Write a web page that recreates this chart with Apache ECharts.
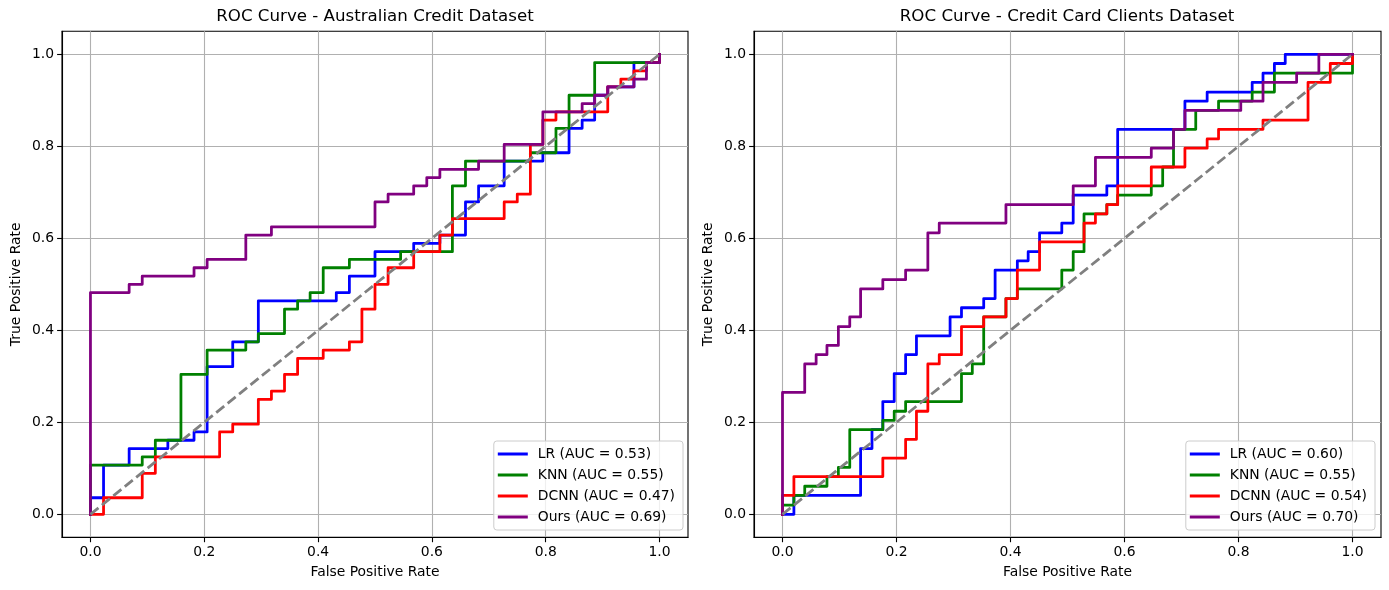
<!DOCTYPE html>
<html><head><meta charset="utf-8">
<script src="https://cdn.jsdelivr.net/npm/echarts@6/dist/echarts.min.js"></script>
<style>html,body{margin:0;padding:0;background:#fff}#c{width:1389px;height:590px}</style>
</head><body><div id="c"></div>
<script>
// ---------- data ----------
const titles = ['ROC Curve - Australian Credit Dataset', 'ROC Curve - Credit Card Clients Dataset'];
const tickValues = [0, 0.2, 0.4, 0.6, 0.8, 1.0];
const tickLabels = ['0.0', '0.2', '0.4', '0.6', '0.8', '1.0'];
const diagX = [0, 1];
const diagY = [0, 1];

const ausNames = ['LR (AUC = 0.53)', 'KNN (AUC = 0.55)', 'DCNN (AUC = 0.47)', 'Ours (AUC = 0.69)'];
const ccNames = ['LR (AUC = 0.60)', 'KNN (AUC = 0.55)', 'DCNN (AUC = 0.54)', 'Ours (AUC = 0.70)'];

const ausLrFpr = [0,0,.023,.023,.068,.068,.136,.136,.182,.182,.205,.205,.25,.25,.295,.295,.432,.432,.455,.455,.5,.5,.568,.568,.614,.614,.659,.659,.682,.682,.727,.727,.795,.795,.841,.841,.864,.864,.886,.886,.909,.909,.955,.955,1,1];
const ausLrTpr = [0,.036,.036,.107,.107,.143,.143,.161,.161,.179,.179,.321,.321,.375,.375,.464,.464,.482,.482,.518,.518,.571,.571,.589,.589,.607,.607,.679,.679,.714,.714,.768,.768,.786,.786,.839,.839,.857,.857,.911,.911,.929,.929,.982,.982,1];

const ausKnnFpr = [0,0,.091,.091,.114,.114,.159,.159,.205,.205,.273,.273,.295,.295,.341,.341,.364,.364,.386,.386,.409,.409,.455,.455,.545,.545,.636,.636,.659,.659,.773,.773,.818,.818,.841,.841,.886,.886,1,1];
const ausKnnTpr = [0,.107,.107,.125,.125,.161,.161,.304,.304,.357,.357,.375,.375,.393,.393,.446,.446,.464,.464,.482,.482,.536,.536,.554,.554,.571,.571,.714,.714,.768,.768,.786,.786,.839,.839,.911,.911,.982,.982,1];

const ausDcnnFpr = [0,.023,.023,.091,.091,.114,.114,.227,.227,.25,.25,.295,.295,.318,.318,.341,.341,.364,.364,.409,.409,.455,.455,.477,.477,.5,.5,.523,.523,.568,.568,.614,.614,.636,.636,.727,.727,.75,.75,.773,.773,.795,.795,.818,.818,.909,.909,.932,.932,.955,.955,.977,.977,1,1];
const ausDcnnTpr = [0,0,.036,.036,.089,.089,.125,.125,.179,.179,.196,.196,.25,.25,.268,.268,.304,.304,.339,.339,.357,.357,.375,.375,.446,.446,.5,.5,.536,.536,.571,.571,.607,.607,.643,.643,.679,.679,.696,.696,.804,.804,.857,.857,.875,.875,.929,.929,.946,.946,.964,.964,.982,.982,1];

const ausOursFpr = [0,0,.068,.068,.091,.091,.182,.182,.205,.205,.273,.273,.318,.318,.5,.5,.523,.523,.568,.568,.591,.591,.614,.614,.682,.682,.727,.727,.795,.795,.864,.864,.886,.886,.909,.909,.955,.955,.977,.977,1,1];
const ausOursTpr = [0,.482,.482,.5,.5,.518,.518,.536,.536,.554,.554,.607,.607,.625,.625,.679,.679,.696,.696,.714,.714,.732,.732,.75,.75,.768,.768,.804,.804,.875,.875,.893,.893,.911,.911,.929,.929,.946,.946,.982,.982,1];

const ccLrFpr = [0,.02,.02,.137,.137,.157,.157,.176,.176,.196,.196,.216,.216,.235,.235,.294,.294,.314,.314,.353,.353,.373,.373,.412,.412,.431,.431,.451,.451,.49,.49,.51,.51,.569,.569,.588,.588,.706,.706,.745,.745,.824,.824,.843,.843,.863,.863,.882,.882,1];
const ccLrTpr = [0,0,.041,.041,.143,.143,.184,.184,.245,.245,.306,.306,.347,.347,.388,.388,.429,.429,.449,.449,.469,.469,.531,.531,.551,.551,.571,.571,.612,.612,.633,.633,.694,.694,.714,.714,.837,.837,.898,.898,.918,.918,.939,.939,.959,.959,.98,.98,1,1];

const ccKnnFpr = [0,0,.02,.02,.039,.039,.078,.078,.098,.098,.118,.118,.176,.176,.196,.196,.216,.216,.314,.314,.333,.333,.353,.353,.392,.392,.412,.412,.49,.49,.51,.51,.529,.529,.569,.569,.588,.588,.647,.647,.667,.667,.686,.686,.725,.725,.765,.765,.824,.824,.863,.863,1,1];
const ccKnnTpr = [0,.02,.02,.041,.041,.061,.061,.082,.082,.102,.102,.184,.184,.204,.204,.224,.224,.245,.245,.306,.306,.327,.327,.429,.429,.469,.469,.49,.49,.531,.531,.571,.571,.653,.653,.673,.673,.694,.694,.714,.714,.755,.755,.837,.837,.878,.878,.898,.898,.918,.918,.959,.959,1];

const ccDcnnFpr = [0,0,.02,.02,.176,.176,.216,.216,.235,.235,.255,.255,.275,.275,.314,.314,.353,.353,.392,.392,.412,.412,.451,.451,.529,.529,.549,.549,.569,.569,.588,.588,.647,.647,.706,.706,.745,.745,.765,.765,.843,.843,.922,.922,.961,.961,1,1];
const ccDcnnTpr = [0,.041,.041,.082,.082,.122,.122,.163,.163,.224,.224,.327,.327,.347,.347,.408,.408,.429,.429,.469,.469,.531,.531,.592,.592,.633,.633,.653,.653,.673,.673,.714,.714,.755,.755,.796,.796,.816,.816,.837,.837,.857,.857,.939,.939,.98,.98,1];

const ccOursFpr = [0,0,.039,.039,.059,.059,.078,.078,.098,.098,.118,.118,.137,.137,.176,.176,.216,.216,.255,.255,.275,.275,.392,.392,.51,.51,.549,.549,.647,.647,.686,.686,.706,.706,.804,.804,.843,.843,.902,.902,.941,.941,1];
const ccOursTpr = [0,.265,.265,.327,.327,.347,.347,.367,.367,.408,.408,.429,.429,.49,.49,.51,.51,.531,.531,.612,.612,.633,.633,.673,.673,.714,.714,.776,.776,.796,.796,.837,.837,.878,.878,.898,.898,.939,.939,.959,.959,1,1];

const seriesColors = ['#0000ff', '#008000', '#ff0000', '#800080'];

// ---------- chart ----------
const FONT = 'DejaVu Sans';
const zip = (xs, ys) => xs.map((x, i) => [x, ys[i]]);
const tickFmt = v => {
  const i = tickValues.findIndex(t => Math.abs(t - v) < 1e-6);
  return i >= 0 ? tickLabels[i] : '';
};

function xAxisCfg(g) {
  return {
    type: 'value', gridIndex: g, min: -0.05, max: 1.05, splitNumber: 5,
    name: 'False Positive Rate', nameLocation: 'middle', nameGap: 28,
    nameTextStyle: { fontFamily: FONT, fontSize: 13.9, color: '#000' },
    axisLine: { show: true, onZero: false, lineStyle: { color: '#000', width: 1.1 } },
    axisTick: { show: true, inside: false, length: 4.9, customValues: tickValues, lineStyle: { color: '#000', width: 1.1 } },
    axisLabel: { show: true, customValues: tickValues, formatter: tickFmt, margin: 8, fontFamily: FONT, fontSize: 13.9, color: '#000' },
    splitLine: { show: true, lineStyle: { color: '#b0b0b0', width: 1.1 } }
  };
}
function yAxisCfg(g) {
  return {
    type: 'value', gridIndex: g, min: -0.05, max: 1.05, splitNumber: 5,
    name: 'True Positive Rate', nameLocation: 'middle', nameGap: 39,
    nameTextStyle: { fontFamily: FONT, fontSize: 13.9, color: '#000' },
    axisLine: { show: true, onZero: false, lineStyle: { color: '#000', width: 1.1 } },
    axisTick: { show: true, inside: false, length: 4.9, customValues: tickValues, lineStyle: { color: '#000', width: 1.1 } },
    axisLabel: { show: true, customValues: tickValues, formatter: tickFmt, margin: 8, fontFamily: FONT, fontSize: 13.9, color: '#000' },
    splitLine: { show: true, lineStyle: { color: '#b0b0b0', width: 1.1 } }
  };
}

function curve(name, fpr, tpr, color, g, z) {
  return {
    type: 'line', name: name, xAxisIndex: g, yAxisIndex: g,
    data: zip(fpr, tpr), showSymbol: false, symbol: 'none', silent: true, z: z,
    lineStyle: { color: color, width: 2.78, join: 'round', cap: 'square' },
    itemStyle: { color: color }, emphasis: { disabled: true }
  };
}
function diag(g) {
  return {
    type: 'line', name: '_chance' + g, xAxisIndex: g, yAxisIndex: g,
    data: zip(diagX, diagY), showSymbol: false, symbol: 'none', silent: true, z: 10,
    lineStyle: { color: '#808080', width: 2.78, type: [10.3, 4.4] },
    itemStyle: { color: '#808080' }, emphasis: { disabled: true }
  };
}
function legendCfg(names, right) {
  return {
    data: names, orient: 'vertical', right: right, bottom: 60,
    icon: 'rect', itemWidth: 30, itemHeight: 3, itemGap: 7,
    padding: [6, 8, 6, 4], selectedMode: false,
    backgroundColor: 'rgba(255,255,255,0.8)', borderColor: '#cccccc', borderWidth: 1, borderRadius: 3,
    textStyle: { fontFamily: FONT, fontSize: 13.9, color: '#000', lineHeight: 14, padding: [0, 0, 0, 5] }
  };
}

const ausSeries = [
  curve(ausNames[0], ausLrFpr, ausLrTpr, seriesColors[0], 0, 2),
  curve(ausNames[1], ausKnnFpr, ausKnnTpr, seriesColors[1], 0, 3),
  curve(ausNames[2], ausDcnnFpr, ausDcnnTpr, seriesColors[2], 0, 4),
  curve(ausNames[3], ausOursFpr, ausOursTpr, seriesColors[3], 0, 5),
  diag(0)
];
const ccSeries = [
  curve(ccNames[0], ccLrFpr, ccLrTpr, seriesColors[0], 1, 2),
  curve(ccNames[1], ccKnnFpr, ccKnnTpr, seriesColors[1], 1, 3),
  curve(ccNames[2], ccDcnnFpr, ccDcnnTpr, seriesColors[2], 1, 4),
  curve(ccNames[3], ccOursFpr, ccOursTpr, seriesColors[3], 1, 5),
  diag(1)
];

const chart = echarts.init(document.getElementById('c'), null, { renderer: 'canvas' });
chart.setOption({
  animation: false,
  backgroundColor: '#ffffff',
  textStyle: { fontFamily: FONT },
  title: [
    { text: titles[0], left: 375, top: 8, textAlign: 'center', padding: 0, textStyle: { fontFamily: FONT, fontSize: 16.67, fontWeight: 'normal', color: '#000' } },
    { text: titles[1], left: 1067, top: 8, textAlign: 'center', padding: 0, textStyle: { fontFamily: FONT, fontSize: 16.67, fontWeight: 'normal', color: '#000' } }
  ],
  grid: [
    { left: 62, top: 31.3, width: 626, height: 506, show: true, borderColor: '#000', borderWidth: 1.1, backgroundColor: 'transparent', containLabel: false },
    { left: 754, top: 31.3, width: 627, height: 506, show: true, borderColor: '#000', borderWidth: 1.1, backgroundColor: 'transparent', containLabel: false }
  ],
  xAxis: [xAxisCfg(0), xAxisCfg(1)],
  yAxis: [yAxisCfg(0), yAxisCfg(1)],
  legend: [legendCfg(ausNames, 706), legendCfg(ccNames, 14)],
  series: ausSeries.concat(ccSeries)
});
</script></body></html>
